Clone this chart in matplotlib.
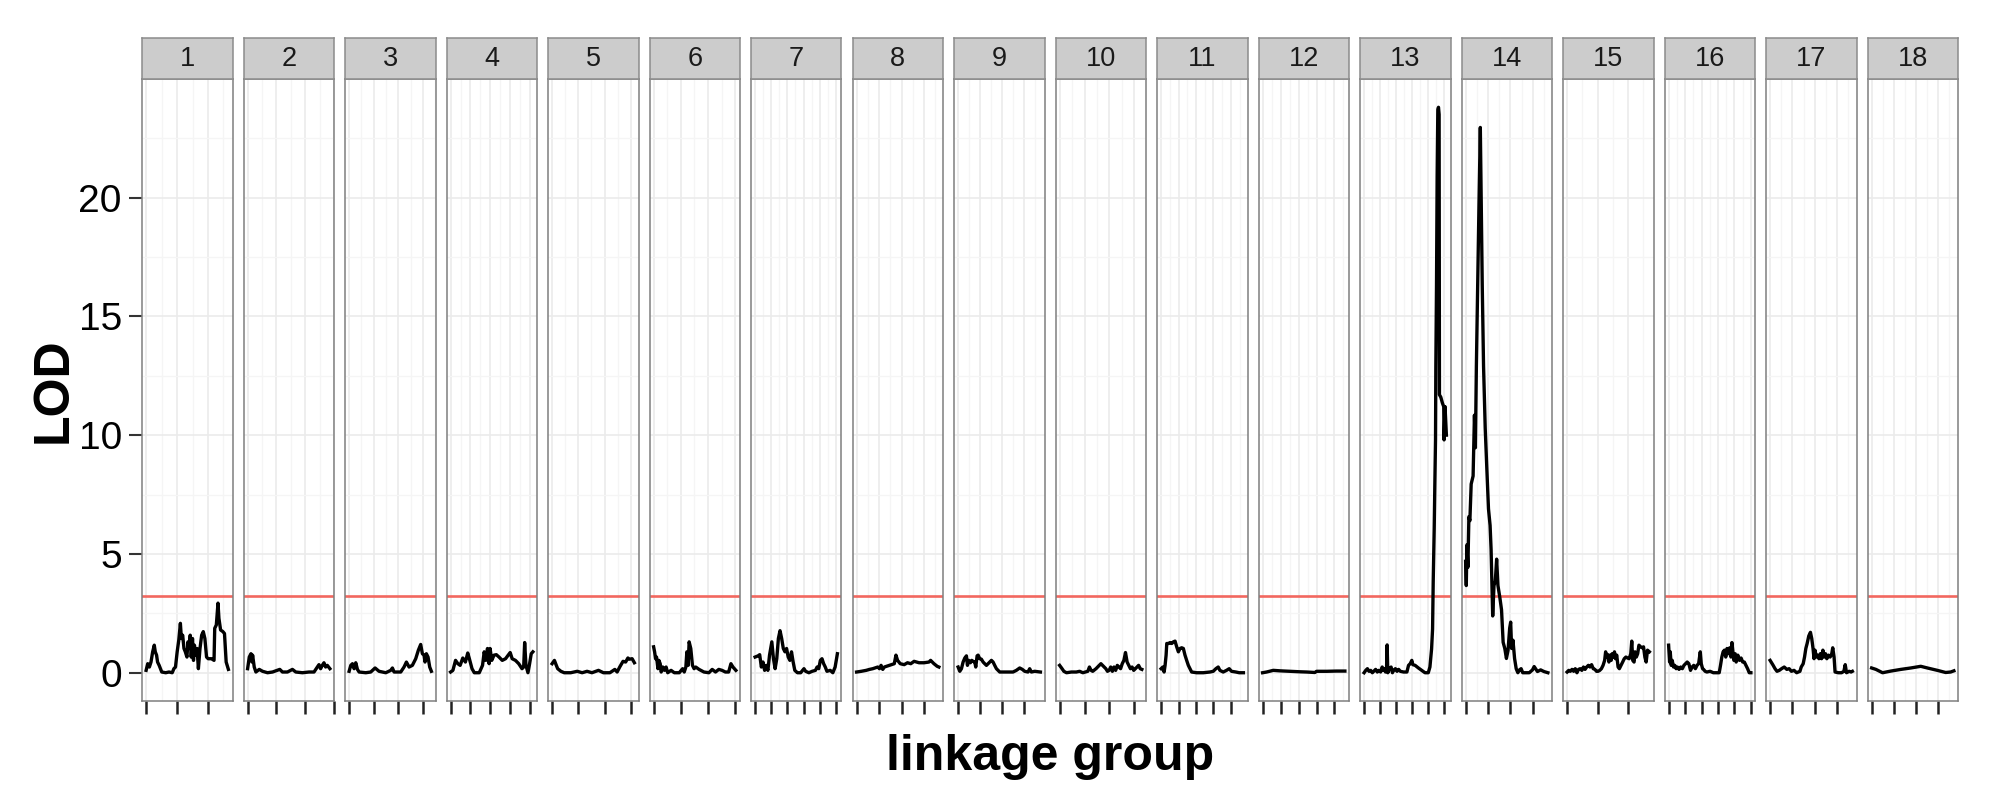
import matplotlib
matplotlib.use("Agg")
import matplotlib.pyplot as plt
from matplotlib.ticker import MultipleLocator

plt.rcParams["font.family"] = ["Liberation Sans", "DejaVu Sans"]

# LOD profiles per linkage group (position in cM, LOD score)
pos01 = [0, 2.6, 5.3, 7.9, 10.6, 13.2, 14.8, 16.9, 18.5, 21.1, 25.3, 31.7, 37, 42.2, 44.9, 47.5, 50.2,
         52.8, 55.4, 57, 59.1, 61.2, 63.4, 66, 67.6, 69.7, 71.3, 72.9, 75, 76.6, 78.1, 80.3, 82.4, 84.5,
         87.1, 89.8, 92.4, 95, 97.7, 100.3, 105.6, 109.8, 110.9, 113.5, 116.2, 117.7, 120.4, 124.1,
         126.7, 129.4, 133]
lod01 = [0.1, 0.38, 0.24, 0.45, 0.88, 1.16, 0.88, 0.74, 0.45, 0.31, 0.03, 0, 0.03, 0, 0.17, 0.24, 0.88,
         1.37, 2.08, 1.44, 1.58, 1.02, 0.88, 0.66, 1.3, 1.02, 1.58, 0.66, 1.44, 0.52, 1.16, 0.74, 1.02,
         0.17, 1.02, 1.58, 1.73, 1.44, 0.66, 0.59, 0.59, 0.52, 1.87, 2.01, 2.93, 2.29, 1.8, 1.73, 1.65,
         0.45, 0.14]

pos02 = [0, 2.9, 5.8, 7.5, 8.7, 11.5, 14.4, 20.2, 26, 34.6, 43.3, 55.9, 60.6, 69.2, 77.9, 83.7, 95.2,
         106.7, 115.4, 121.2, 124, 126.9, 129.8, 132.7, 135.6, 138.5, 143]
lod02 = [0.17, 0.66, 0.8, 0.45, 0.74, 0.24, 0.03, 0.14, 0.06, 0, 0.03, 0.14, 0.03, 0.03, 0.14, 0.03, 0,
         0.03, 0.03, 0.24, 0.34, 0.17, 0.31, 0.42, 0.24, 0.31, 0.17]

pos03 = [0, 3.4, 6.8, 10.1, 13.5, 16.9, 20.3, 33.8, 43.9, 52.7, 60.8, 74.4, 84.5, 87.9, 91.3, 104.8,
         111.5, 116.3, 121.7, 128.4, 135.2, 140.6, 145.3, 148.7, 152.1, 154.1, 156.8, 160.2, 163.6, 167]
lod03 = [0.06, 0.31, 0.38, 0.17, 0.42, 0.14, 0.03, 0, 0.03, 0.2, 0.06, 0, 0.1, 0.2, 0.03, 0.03, 0.24,
         0.45, 0.24, 0.31, 0.59, 0.95, 1.19, 0.8, 0.74, 0.45, 0.8, 0.66, 0.24, 0.06]

pos04 = [0, 5.8, 12.5, 18.3, 24.1, 30.8, 37.4, 43.3, 47.4, 54.1, 59.9, 72.4, 80.7, 84.9, 89, 93.2, 97.3,
         99.8, 104, 109.8, 115.6, 122.3, 130.6, 138.9, 145.6, 150.6, 155.6, 163.9, 172.2, 180.5, 184.7,
         187.2, 190.5, 195.5, 199.7, 203.8, 208]
lod04 = [0.03, 0.1, 0.52, 0.38, 0.31, 0.62, 0.45, 0.83, 0.59, 0.17, 0, 0, 0.31, 0.88, 0.52, 1.02, 0.38,
         1.02, 0.52, 0.74, 0.76, 0.66, 0.52, 0.59, 0.74, 0.85, 0.59, 0.52, 0.38, 0.17, 0.24, 1.27, 0.31,
         0, 0.38, 0.8, 0.88]

pos05 = [0, 4.4, 7.5, 10.6, 16.8, 23.1, 35.5, 48, 57.3, 66.7, 76, 88.5, 97.9, 110.3, 119.7, 124.1, 129,
         135.3, 140.3, 144.6, 147.8, 152.7, 157]
lod05 = [0.38, 0.52, 0.34, 0.17, 0.06, 0, 0, 0.06, 0, 0.06, 0, 0.1, 0, 0, 0.14, 0.03, 0.24, 0.48, 0.45,
         0.62, 0.57, 0.59, 0.42]

pos06 = [0, 1.8, 3.6, 5.4, 7.9, 9.7, 12.1, 13.9, 16.9, 19.9, 22.9, 25.9, 32, 38, 47.1, 53.2, 56.2, 59.2,
         61, 63.4, 65.2, 68.2, 71.3, 74.3, 77.3, 83.4, 92.4, 101.5, 107.5, 113.6, 119.6, 125.6, 131.7,
         137.7, 141.9, 145.6, 151]
lod06 = [1.09, 0.88, 0.59, 0.66, 0.17, 0.52, 0.38, 0.03, 0.24, 0.1, 0.24, 0, 0.1, 0, 0, 0.17, 0.03, 0.24,
         0.88, 0.31, 1.3, 1.02, 0.31, 0.17, 0.24, 0.14, 0.03, 0, 0.14, 0.03, 0.14, 0.1, 0.03, 0.03, 0.38,
         0.24, 0.1]

pos07 = [0, 9.1, 14.2, 19.3, 24.4, 29.5, 34.5, 39.6, 44.7, 51.8, 56.9, 62, 67.1, 72.1, 77.2, 82.3, 87.4,
         92.5, 97.5, 102.6, 107.7, 112.8, 117.9, 123, 131.1, 141.3, 151.4, 156.5, 166.7, 176.8, 187,
         192.1, 197.2, 202.2, 207.3, 212.4, 217.5, 222.6, 232.7, 240.9, 248, 255]
lod07 = [0.66, 0.71, 0.76, 0.24, 0.45, 0.1, 0.31, 0.1, 0.74, 1.3, 0.59, 0.17, 0.59, 1.44, 1.77, 1.44,
         1.02, 0.88, 1.02, 0.66, 0.52, 0.88, 0.45, 0.1, 0, 0, 0.17, 0.06, 0, 0.06, 0.1, 0.24, 0.17, 0.52,
         0.59, 0.38, 0.24, 0.06, 0.1, 0, 0.24, 0.8]

pos08 = [0, 10.3, 21.3, 28.7, 36, 47, 50.7, 54.4, 58.1, 61.7, 72.8, 83.8, 87.5, 91.1, 97, 105.8, 113.2,
         120.5, 127.9, 138.9, 149.9, 161, 164.6, 172, 179.3, 183]
lod08 = [0.03, 0.06, 0.1, 0.14, 0.17, 0.24, 0.17, 0.31, 0.14, 0.24, 0.31, 0.38, 0.74, 0.52, 0.38, 0.34,
         0.42, 0.38, 0.48, 0.42, 0.42, 0.45, 0.52, 0.38, 0.27, 0.24]

pos09 = [0, 3.8, 7.6, 11.4, 15.3, 19, 21.3, 24.3, 28.1, 31.2, 34.2, 38.1, 40.3, 43.4, 45.7, 49.4, 53.2,
         57.1, 60.8, 64.7, 68.5, 72.3, 76.1, 79.9, 83.6, 87.5, 95.1, 106.5, 125.5, 133.1, 140.7, 146.8,
         152.1, 159.7, 163.5, 167.4, 175, 188]
lod09 = [0.24, 0.06, 0.17, 0.45, 0.62, 0.71, 0.31, 0.52, 0.42, 0.52, 0.48, 0.45, 0.24, 0.71, 0.74, 0.59,
         0.57, 0.45, 0.38, 0.31, 0.38, 0.45, 0.52, 0.45, 0.31, 0.17, 0.03, 0.03, 0.03, 0.1, 0.2, 0.14,
         0.06, 0.03, 0.17, 0.03, 0.06, 0.03]

pos10 = [0, 3.9, 8.5, 13.8, 23.7, 33.5, 40.1, 46.6, 56.5, 59.8, 63.1, 66.4, 73, 79.5, 82.8, 86.1, 89.4,
         92.7, 96, 99.3, 102.5, 105.8, 109.1, 112.4, 115.7, 119, 122.3, 125.6, 128.9, 132.1, 135.4,
         138.7, 142, 145.3, 148.6, 151.9, 155.2, 158.4, 161.7, 165]
lod10 = [0.31, 0.2, 0.06, 0, 0.03, 0.03, 0.06, 0, 0.06, 0.24, 0.1, 0.06, 0.17, 0.31, 0.38, 0.31, 0.24,
         0.17, 0.06, 0.1, 0.24, 0.06, 0.24, 0.1, 0.31, 0.24, 0.17, 0.38, 0.52, 0.85, 0.45, 0.31, 0.17,
         0.24, 0.1, 0.17, 0.24, 0.31, 0.17, 0.14]

pos11 = [0, 4.8, 8.6, 11.4, 14.3, 16.2, 21, 25.7, 30.5, 35.2, 40, 44.7, 49.5, 54.3, 59, 63.8, 68.5,
         73.3, 78.1, 82.8, 87.6, 101.9, 120.9, 140, 149.5, 157.1, 163.8, 168.6, 178.1, 187.6, 195.3,
         201.9, 214.4, 224, 236]
lod11 = [0.17, 0.24, 0.03, 0.31, 0.74, 1.23, 1.23, 1.27, 1.23, 1.3, 1.33, 1.09, 0.88, 1.02, 1.05, 1.02,
         0.74, 0.52, 0.31, 0.17, 0.03, 0, 0, 0.03, 0.06, 0.17, 0.24, 0.1, 0.03, 0.1, 0.17, 0.06, 0.03,
         0, 0]

pos12 = [0, 11.1, 29.7, 48.2, 76, 103.8, 122.4, 145.5, 150.2, 178, 205.8, 229]
lod12 = [0, 0.03, 0.1, 0.08, 0.06, 0.04, 0.03, 0.01, 0.06, 0.06, 0.07, 0.07]

pos13 = [0, 5.1, 10.3, 15.4, 20.6, 25.7, 36, 41.2, 46.3, 51.5, 56.6, 59.7, 63.8, 66.9, 70, 72, 74.1,
         79.2, 84.4, 88.5, 92.6, 97.8, 102.9, 108, 113.2, 123.5, 133.8, 138.9, 144.1, 149.2, 152.3,
         159.5, 169.8, 180.1, 190.4, 200.7, 205.8, 211, 214.1, 216.1, 219.2, 221.2, 223.3, 224.3, 226.4,
         228.4, 230.5, 232.6, 234.6, 235.6, 239.8, 244.9, 249, 250.1, 253.1, 257.3]
lod13 = [0, 0.1, 0.17, 0.06, 0.1, 0, 0.14, 0.03, 0.1, 0.03, 0.24, 0.1, 0.17, 0.03, 0.1, 1.17, 0, 0.17,
         0.24, 0, 0.1, 0.17, 0.06, 0.14, 0.06, 0.03, 0.03, 0.31, 0.38, 0.52, 0.34, 0.31, 0.2, 0.1, 0, 0,
         0.24, 1.0, 1.84, 3.84, 6.06, 7.94, 9.8, 12.9, 16.3, 20.9, 23.7, 23.8, 23.5, 11.7, 11.6, 11.35,
         11.2, 9.8, 11.2, 10.0]

pos14 = [0, 1.5, 2.9, 5.1, 7.3, 9.5, 12.4, 16.7, 19.7, 21.8, 24, 26.9, 29.8, 32.8, 34.9, 37.1, 40, 43.7,
         47.3, 51, 54.6, 56.8, 60.4, 63.3, 66.2, 69.2, 72.1, 76.4, 80.1, 83.7, 87.4, 91, 94.6, 98.3,
         100.5, 102.6, 105.6, 109.2, 112.8, 116.5, 120.1, 123.8, 127.4, 134.7, 142, 149.2, 152.9, 160.2,
         167.4, 174.7, 183.5]
lod14 = [4.69, 3.67, 5.38, 4.44, 6.57, 6.4, 7.94, 8.28, 10.84, 9.47, 12.9, 16.3, 19.7, 22.95, 19.7, 16.3,
         12.9, 10.3, 8.6, 6.9, 6.2, 5.2, 2.39, 3.67, 3.84, 4.78, 3.67, 3.16, 2.65, 1.28, 1.02, 0.6, 0.94,
         1.88, 2.13, 1.02, 1.37, 0.6, 0.17, 0, 0.12, 0.17, 0, 0, 0, 0.12, 0.26, 0.05, 0.12, 0.05, 0]

pos15 = [0, 2.7, 5.4, 8, 10.7, 13.4, 16.1, 18.7, 21.4, 24.1, 26.8, 29.4, 32.1, 34.8, 37.5, 40.1, 42.8,
         45.5, 48.2, 50.8, 53.5, 56.2, 58.9, 61.5, 63.1, 65.3, 66.9, 68.5, 70.6, 72.2, 73.8, 76, 77.6,
         79.2, 81.3, 83.5, 85.6, 88.3, 91, 93.6, 96.3, 99, 101.7, 104.3, 105.9, 107.5, 109.7, 111.3,
         113.4, 115.6, 117.7, 120.4, 123.1, 125.2, 127.4, 129.5, 131.7, 134.8]
lod15 = [0.03, 0.1, 0.06, 0.14, 0.06, 0.17, 0, 0.14, 0.17, 0.1, 0.24, 0.14, 0.24, 0.31, 0.24, 0.34, 0.17,
         0.14, 0.06, 0.06, 0.1, 0.17, 0.31, 0.52, 0.88, 0.66, 0.76, 0.45, 0.74, 0.52, 0.8, 0.66, 0.88,
         0.59, 0.74, 0.24, 0.17, 0.31, 0.45, 0.59, 0.66, 0.62, 0.59, 0.8, 1.33, 0.52, 0.45, 0.88, 0.66,
         0.8, 1.16, 1.09, 1.05, 1.09, 0.66, 0.45, 0.95, 0.88]

pos16 = [0, 3, 5, 7.9, 10.9, 14.9, 18.8, 22.8, 26.8, 31.7, 36.7, 41.7, 46.6, 51.6, 56.5, 61.5, 66.5,
         71.4, 76.4, 81.3, 86.3, 91.2, 96.2, 99.2, 103.2, 106.1, 111.1, 116.1, 126, 135.9, 145.8, 153.7,
         157.7, 161.7, 165.6, 169.6, 173.6, 177.5, 181.5, 185.5, 189.4, 192.4, 195.4, 198.4, 202.3,
         205.3, 210.3, 215.2, 220.2, 225.1, 230.1, 235, 240, 245, 250]
lod16 = [1.16, 0.45, 0.88, 0.31, 0.52, 0.24, 0.31, 0.17, 0.24, 0.14, 0.24, 0.17, 0.31, 0.38, 0.45, 0.38,
         0.1, 0.24, 0.31, 0.17, 0.31, 0.38, 0.88, 0.38, 0.17, 0.14, 0.06, 0.03, 0.06, 0, 0, 0, 0.31, 0.66,
         0.88, 0.95, 0.66, 1.02, 0.8, 1.05, 0.66, 1.27, 0.88, 0.52, 0.8, 0.45, 0.74, 0.52, 0.62, 0.45,
         0.45, 0.31, 0.17, 0, 0]

pos17 = [0, 5.9, 11, 15.4, 20.5, 25.6, 31.5, 37.3, 42.5, 47.6, 53.4, 59.3, 66.6, 69.5, 71.7, 73.9, 76.9,
         79.8, 82.7, 86.4, 90.1, 93, 95.9, 98.1, 100.3, 103.3, 106.2, 109.1, 112.1, 115, 117.9, 120.9,
         123.8, 126.7, 130.4, 134.1, 137.7, 139.9, 142.9, 145.1, 152.4, 159.7, 164.8, 167.8, 170.7,
         176.6, 180.9, 183.8]
lod17 = [0.52, 0.34, 0.17, 0.06, 0.1, 0.17, 0.24, 0.14, 0.17, 0.06, 0.1, 0, 0.06, 0.24, 0.31, 0.38, 0.66,
         1.02, 1.23, 1.55, 1.7, 1.44, 1.02, 0.59, 0.95, 0.66, 0.74, 0.59, 0.8, 0.59, 0.95, 0.66, 0.8,
         0.59, 0.74, 0.66, 0.8, 1.05, 0.66, 0.03, 0, 0, 0.06, 0.34, 0, 0.06, 0.03, 0.06]

pos18 = [0, 9.7, 24.6, 43.3, 65.7, 88.1, 110.5, 125.4, 147.8, 166.5, 177.7, 185]
lod18 = [0.2, 0.14, 0, 0.07, 0.14, 0.2, 0.27, 0.2, 0.1, 0.01, 0.03, 0.08]

groups = [str(i) for i in range(1, 19)]
positions = [pos01, pos02, pos03, pos04, pos05, pos06, pos07, pos08, pos09,
             pos10, pos11, pos12, pos13, pos14, pos15, pos16, pos17, pos18]
lods = [lod01, lod02, lod03, lod04, lod05, lod06, lod07, lod08, lod09,
        lod10, lod11, lod12, lod13, lod14, lod15, lod16, lod17, lod18]
threshold = 3.22

W, H = 1997, 800
fig = plt.figure(figsize=(W / 100, H / 100), dpi=100)

px_left, px_w, px_step = 142, 90.5, 101.5
px_top, px_bot, strip_h = 79, 701, 41

ymax = max(max(l) for l in lods)
ylim = (-0.05 * ymax, 1.05 * ymax)

for i, (g, x, y) in enumerate(zip(groups, positions, lods)):
    x0 = (px_left + i * px_step) / W
    ax = fig.add_axes([x0, 1 - px_bot / H, px_w / W, (px_bot - px_top) / H])
    xmin, xmax = min(x), max(x)
    rng = xmax - xmin
    ax.set_xlim(xmin - 0.05 * rng, xmax + 0.05 * rng)
    ax.set_ylim(*ylim)

    ax.xaxis.set_major_locator(MultipleLocator(50))
    ax.xaxis.set_minor_locator(MultipleLocator(25))
    ax.yaxis.set_major_locator(MultipleLocator(5))
    ax.yaxis.set_minor_locator(MultipleLocator(2.5))
    ax.grid(True, which="major", color="#EBEBEB", lw=1.2)
    ax.grid(True, which="minor", color="#F5F5F5", lw=0.9)
    ax.set_axisbelow(True)

    ax.axhline(threshold, color="#F2675F", lw=1.9, zorder=2)
    ax.plot(x, y, color="black", lw=2.4, zorder=3, solid_joinstyle="round")

    for sp in ax.spines.values():
        sp.set_color("#7F7F7F")
        sp.set_linewidth(1.1)

    ax.tick_params(axis="x", which="major", direction="out", length=9.5, width=1.8,
                   color="#222222", labelbottom=False)
    ax.tick_params(axis="both", which="minor", length=0)
    if i == 0:
        ax.tick_params(axis="y", which="major", direction="out", length=9.5, width=1.5,
                       color="#333333", labelsize=28, pad=5)
    else:
        ax.tick_params(axis="y", which="major", length=0, labelleft=False)

    # facet strip
    sax = fig.add_axes([x0, 1 - px_top / H, px_w / W, strip_h / H])
    sax.set_facecolor("#CCCCCC")
    sax.set_xticks([])
    sax.set_yticks([])
    for sp in sax.spines.values():
        sp.set_color("#8C8C8C")
        sp.set_linewidth(1.1)
    sax.text(0.5, 0.48, g, ha="center", va="center", fontsize=19.5, color="#1A1A1A",
             transform=sax.transAxes)

cx = (px_left + (px_left + 17 * px_step + px_w)) / 2 / W
fig.text(cx, 1 - 770 / H, "linkage group", ha="center", va="baseline",
         fontsize=36, fontweight="bold")
fig.text(67 / W, 1 - 390 / H, "LOD", rotation=90, rotation_mode="anchor",
         ha="center", va="baseline", fontsize=36, fontweight="bold")

fig.savefig("out.png", dpi=100, facecolor="white")
